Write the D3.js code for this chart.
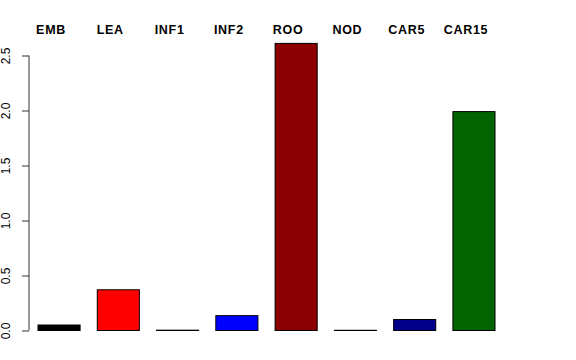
<!DOCTYPE html>
<html lang="en">
<head>
<script src="https://d3js.org/d3.v7.min.js"></script>
<style>
body { margin: 0; background: #fff; }
text { font-family: "Liberation Sans", Arial, sans-serif; }
</style>
</head>
<body>
<svg width="576" height="360"></svg>
<script>
var categories = ["EMB", "LEA", "INF1", "INF2", "ROO", "NOD", "CAR5", "CAR15"];
var values = [0.05, 0.37, 0.003, 0.135, 2.61, 0.002, 0.10, 1.99];
var colors = ["#000000", "#FF0000", "#00CD00", "#0000FF", "#8B0000", "#FFA500", "#00008B", "#006400"];
var yTicks = [0, 0.5, 1, 1.5, 2, 2.5];

var svg = d3.select("svg");

var x = d3.scaleBand().domain(categories).range([38, 495]).paddingInner(0.29).paddingOuter(0);
var y = d3.scaleLinear().domain([0, 2.5]).range([330.5, 55.5]);

// y axis, R style with rotated labels
var yAxis = svg.append("g")
  .attr("transform", "translate(29,0)")
  .call(d3.axisLeft(y).tickValues(yTicks).tickSize(7).tickFormat(d3.format(".1f")));
yAxis.select(".domain").attr("stroke", "#333").attr("d", "M0," + y(0) + "V" + y(2.5));
yAxis.selectAll(".tick line").attr("stroke", "#333");
yAxis.selectAll(".tick text")
  .attr("font-size", 12)
  .attr("fill", "#000")
  .attr("font-family", "Liberation Sans, Arial, sans-serif")
  .attr("text-anchor", "middle")
  .attr("x", 0)
  .attr("dy", 0)
  .attr("transform", "translate(-19.5,0) rotate(-90)");

// bars
svg.selectAll(".bar")
  .data(values)
  .enter().append("rect")
  .attr("class", "bar")
  .attr("x", function(d, i) { return x(categories[i]); })
  .attr("y", function(d) { return y(d); })
  .attr("width", x.bandwidth())
  .attr("height", function(d) { return y(0) - y(d); })
  .attr("fill", function(d, i) { return colors[i]; })
  .attr("stroke", "#000")
  .attr("stroke-width", 1);

// labels at top
svg.selectAll(".lab")
  .data(categories)
  .enter().append("text")
  .attr("class", "lab")
  .attr("x", function(d) { return x(d) + x.bandwidth() / 2 - 8; })
  .attr("y", 34)
  .attr("text-anchor", "middle")
  .attr("font-size", 12.5)
  .attr("letter-spacing", 0.7)
  .attr("font-weight", "bold")
  .text(function(d) { return d; });
</script>
</body>
</html>
